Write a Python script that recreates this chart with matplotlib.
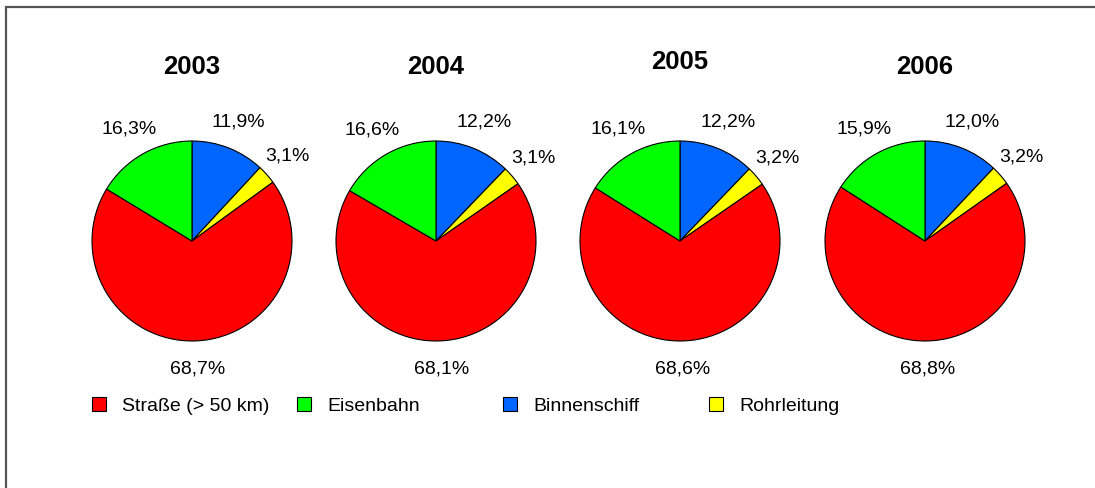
import matplotlib.pyplot as plt
from matplotlib.patches import Rectangle, Patch

plt.rcParams['font.family'] = ['Liberation Sans', 'DejaVu Sans']

years = ['2003', '2004', '2005', '2006']
modes = ['Straße (> 50 km)', 'Eisenbahn', 'Binnenschiff', 'Rohrleitung']
colors = ['#ff0000', '#00ff00', '#0066ff', '#ffff00']

strasse = [68.7, 68.1, 68.6, 68.8]
eisenbahn = [16.3, 16.6, 16.1, 15.9]
binnenschiff = [11.9, 12.2, 12.2, 12.0]
rohrleitung = [3.1, 3.1, 3.2, 3.2]

W, H = 1095, 488
fig = plt.figure(figsize=(W / 100, H / 100), dpi=100)
fig.patches.append(Rectangle((6 / W, -0.05), 1.1, (H - 7) / H + 0.05, transform=fig.transFigure,
                             fill=False, edgecolor='#555555', linewidth=1.6))

centers_x = [192, 436, 680, 925]
center_y = 241
size = 250  # axes box in px, pie radius = 100 px
title_y = [1.74, 1.74, 1.79, 1.74]

def fmt(v):
    return f'{v:.1f}%'.replace('.', ',')

for i, year in enumerate(years):
    ax = fig.add_axes([(centers_x[i] - size / 2) / W, (H - center_y - size / 2) / H, size / W, size / H])
    vals = [binnenschiff[i], rohrleitung[i], strasse[i], eisenbahn[i]]
    cols = [colors[2], colors[3], colors[0], colors[1]]
    wedges, texts = ax.pie(vals, colors=cols, labels=[fmt(v) for v in vals], startangle=90,
                           counterclock=False, labeldistance=1.28, normalize=True,
                           wedgeprops=dict(edgecolor='black', linewidth=0.8),
                           textprops=dict(fontsize=14))
    for t in texts:
        t.set_ha('center')
        t.set_va('center')
    ax.set_aspect('equal')
    ax.text(0, title_y[i], year, ha='center', va='center', fontsize=18.5, fontweight='bold')

legend_x = [92, 297, 503, 709]
for i, m in enumerate(modes):
    fig.legend(handles=[Patch(facecolor=colors[i], edgecolor='black', linewidth=0.8)], labels=[m],
               loc='center left', bbox_to_anchor=(legend_x[i] / W, (H - 406) / H), frameon=False,
               fontsize=14, handlelength=0.72, handleheight=0.72, handletextpad=0.82, borderpad=0,
               borderaxespad=0)

fig.savefig('out.png', dpi=100)
